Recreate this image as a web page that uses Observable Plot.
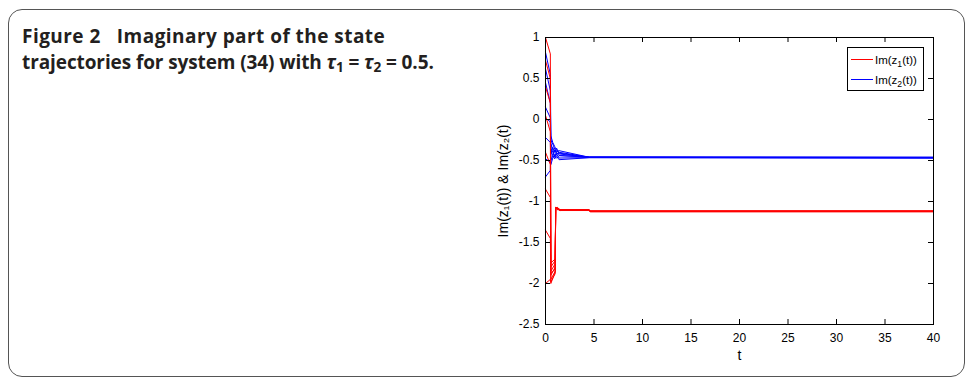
<!DOCTYPE html>
<html>
<head>
<meta charset="utf-8">
<script src="https://cdn.jsdelivr.net/npm/d3@7"></script>
<script src="https://cdn.jsdelivr.net/npm/@observablehq/plot@0.6"></script>
<style>
  html, body { margin: 0; padding: 0; background: #fff; }
  #page { position: relative; width: 966px; height: 378px; overflow: hidden; background: #fff; }
  #box { position: absolute; left: 8px; top: 9px; width: 957px; height: 368px; box-sizing: border-box;
         border: 1.3px solid #555; border-radius: 14px; }
  #caption { position: absolute; left: 22px; top: 23px; font-family: "Open Sans", Lato, sans-serif; font-weight: 700;
             font-size: 19px; line-height: 26px; color: #231f20; white-space: nowrap; letter-spacing: -0.1px; }
  #caption .l1 { letter-spacing: 0.45px; }
  #caption sub { font-size: 0.72em; vertical-align: -0.22em; line-height: 0; }
  #chart { position: absolute; left: 0; top: 0; }
  #legend { position: absolute; left: 847px; top: 47px; width: 77px; height: 44px; box-sizing: border-box;
            border: 1px solid #000; background: #fff; font-family: "Liberation Sans", Arial, sans-serif; font-size: 11.5px; color: #000; }
  #legend .row { position: absolute; left: 0; height: 14px; width: 100%; }
  #legend .sw { position: absolute; left: 3px; top: 6px; width: 22px; height: 0; border-top: 1px solid; }
  #legend .lb { position: absolute; left: 27px; top: 0px; line-height: 14px; white-space: nowrap; }
  #legend sub { font-size: 0.75em; vertical-align: -0.3em; line-height: 0; }
</style>
</head>
<body>
<div id="page">
  <div id="box"></div>
  <div id="chart"></div>
  <div id="caption"><span class="l1">Figure 2&nbsp;&nbsp;&nbsp;Imaginary part of the state</span><br>trajectories for system (34) with <i>τ</i><sub>1</sub> = <i>τ</i><sub>2</sub> = 0.5.</div>
  <div id="legend">
    <div class="row" style="top:5px"><span class="sw" style="border-color:#ff0000"></span><span class="lb">Im(z<sub>1</sub>(t))</span></div>
    <div class="row" style="top:25px"><span class="sw" style="border-color:#0000ff"></span><span class="lb">Im(z<sub>2</sub>(t))</span></div>
  </div>
</div>
<script>
// ---- data ----
const xTicks = [0, 5, 10, 15, 20, 25, 30, 35, 40];
const yTicks = [1, 0.5, 0, -0.5, -1, -1.5, -2, -2.5];

// time points for the Im(z1) trajectories
const tRed = [0, 0.5, 0.55, 1.0, 1.05, 1.2, 1.5, 4.5, 4.6, 40];
const red1 = [1.00, 0.80, -1.90, -1.80, -1.07, -1.08, -1.10, -1.100, -1.115, -1.115];
const red2 = [0.72, 0.50, -1.95, -1.85, -1.08, -1.09, -1.10, -1.105, -1.120, -1.120];
const red3 = [0.40, 0.20, -1.80, -1.72, -1.08, -1.07, -1.10, -1.105, -1.125, -1.125];
const red4 = [0.05, -0.15, -1.85, -1.76, -1.09, -1.08, -1.11, -1.110, -1.118, -1.118];
const red5 = [-0.40, -0.55, -1.75, -1.70, -1.08, -1.09, -1.11, -1.100, -1.122, -1.122];
const red6 = [-0.85, -0.95, -1.98, -1.88, -1.07, -1.10, -1.10, -1.110, -1.116, -1.116];
const red7 = [-1.35, -1.45, -1.88, -1.82, -1.09, -1.08, -1.11, -1.105, -1.124, -1.124];
const red8 = [-2.00, -1.95, -2.00, -1.86, -1.08, -1.09, -1.10, -1.100, -1.120, -1.120];

// time points for the Im(z2) trajectories
const tBlue = [0, 0.5, 0.55, 0.75, 0.95, 1.15, 1.4, 4.5, 40];
const blue1 = [0.82, 0.55, -0.20, -0.28, -0.33, -0.38, -0.40, -0.460, -0.462];
const blue2 = [0.62, 0.35, -0.42, -0.34, -0.40, -0.35, -0.42, -0.462, -0.466];
const blue3 = [0.45, 0.20, -0.25, -0.30, -0.36, -0.40, -0.44, -0.458, -0.460];
const blue4 = [0.15, 0.02, -0.50, -0.44, -0.37, -0.42, -0.47, -0.464, -0.468];
const blue5 = [0.02, -0.03, -0.35, -0.40, -0.45, -0.39, -0.38, -0.460, -0.464];
const blue6 = [-0.22, -0.28, -0.55, -0.47, -0.43, -0.45, -0.49, -0.466, -0.470];
const blue7 = [-0.48, -0.52, -0.38, -0.44, -0.48, -0.42, -0.41, -0.462, -0.466];
const blue8 = [-0.70, -0.62, -0.30, -0.36, -0.46, -0.47, -0.44, -0.458, -0.462];

const redRuns = [red1, red2, red3, red4, red5, red6, red7, red8];
const blueRuns = [blue1, blue2, blue3, blue4, blue5, blue6, blue7, blue8];

function toRows(times, runs, name) {
  const rows = [];
  runs.forEach((vals, i) => vals.forEach((v, j) => rows.push({t: times[j], v, run: name + i})));
  return rows;
}
const redData = toRows(tRed, redRuns, "z1_");
const blueData = toRows(tBlue, blueRuns, "z2_");

const W = 966, H = 378, mL = 545, mR = 33, mT = 37, mB = 54;
const pw = W - mL - mR, ph = H - mT - mB;
const fmt = d => String(d);

const chart = Plot.plot({
  width: W, height: H,
  marginLeft: mL, marginRight: mR, marginTop: mT, marginBottom: mB,
  style: {fontFamily: "'Liberation Sans', Arial, sans-serif", fontSize: "12px", color: "#000", background: "transparent"},
  x: {domain: [0, 40]},
  y: {domain: [-2.5, 1]},
  marks: [
    Plot.line(blueData, {x: "t", y: "v", z: "run", stroke: "#0000ff", strokeWidth: 1, curve: "linear"}),
    Plot.line(redData, {x: "t", y: "v", z: "run", stroke: "#ff0000", strokeWidth: 1, curve: "linear"}),
    Plot.tickX(xTicks, {x: d => d, insetTop: ph - 5, stroke: "#000"}),
    Plot.tickX(xTicks, {x: d => d, insetBottom: ph - 5, stroke: "#000"}),
    Plot.tickY(yTicks, {y: d => d, insetRight: pw - 5, stroke: "#000"}),
    Plot.tickY(yTicks, {y: d => d, insetLeft: pw - 5, stroke: "#000"}),
    Plot.frame({stroke: "#000"}),
    Plot.axisX({ticks: xTicks, tickSize: 0, tickPadding: 9, tickFormat: fmt, label: "t", labelAnchor: "center", labelArrow: "none", labelOffset: 35, fontSize: 12}),
    Plot.axisY({ticks: yTicks, tickSize: 0, tickPadding: 6, tickFormat: fmt, label: "Im(z₁(t)) & Im(z₂(t)", labelAnchor: "center", labelArrow: "none", labelOffset: 47, fontSize: 12})
  ]
});
document.getElementById("chart").appendChild(chart);
chart.querySelectorAll("g[aria-label='x-axis label'] text, g[aria-label='y-axis label'] text").forEach(t => t.style.fontSize = "14px");
</script>
</body>
</html>
